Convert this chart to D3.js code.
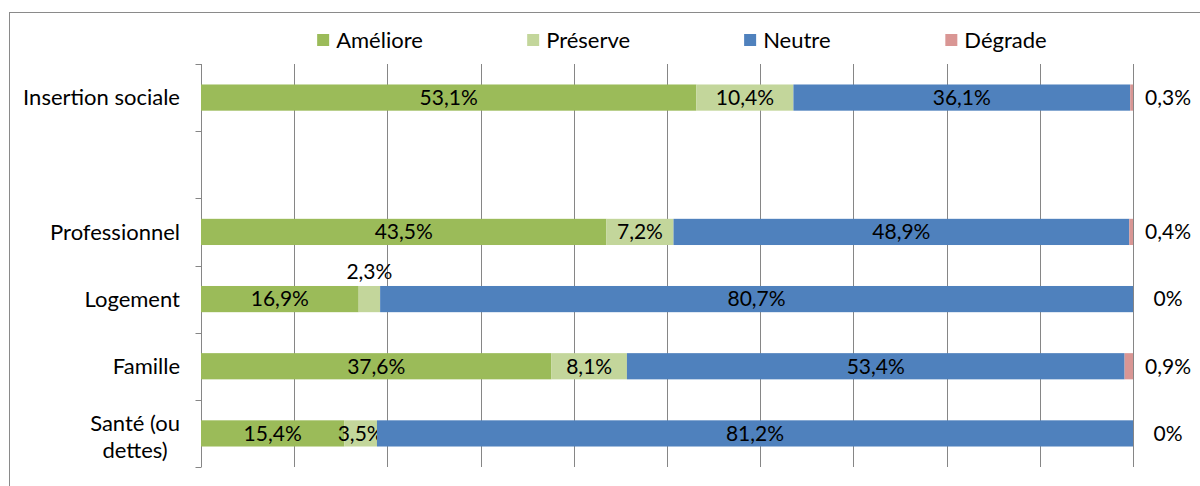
<!DOCTYPE html>
<html><head><meta charset="utf-8">
<script src="https://cdn.jsdelivr.net/npm/d3@7"></script>
<style>
body{margin:0;background:#fff}
svg{display:block}
text{font-family:Lato,"Open Sans",sans-serif;fill:#000}
</style>
</head><body>
<svg id="c" width="1200" height="486"></svg>
<script>
// ---- data ----
const categories = ["Insertion sociale", "", "Professionnel", "Logement", "Famille", "Santé (ou dettes)"];
const categoryLines = [["Insertion sociale"], [], ["Professionnel"], ["Logement"], ["Famille"], ["Santé (ou", "dettes)"]];
const seriesNames = ["Améliore", "Préserve", "Neutre", "Dégrade"];
const ameliore = [53.1, null, 43.5, 16.9, 37.6, 15.4];
const preserve = [10.4, null, 7.2, 2.3, 8.1, 3.5];
const neutre   = [36.1, null, 48.9, 80.7, 53.4, 81.2];
const degrade  = [0.3, null, 0.4, 0, 0.9, 0];
const seriesColors = ["#9BBB59", "#C3D69B", "#4F81BD", "#D99694"];
const xTickValues = [0, 10, 20, 30, 40, 50, 60, 70, 80, 90, 100];

// ---- layout ----
const svg = d3.select("#c");
const W = 1200, H = 486;
const plot = {left: 201, right: 1133, top: 64, bottom: 467};
const wordSize = 22, numSize = 21;

const seriesData = [ameliore, preserve, neutre, degrade];
const rows = categories.map((c, i) => {
  const vals = seriesData.map(s => s[i]);
  return {i, cat: c, vals, empty: vals.every(v => v == null)};
});

const x = d3.scaleLinear().domain([0, 100]).range([plot.left, plot.right]);
const yBand = d3.scaleBand().domain(d3.range(categories.length)).range([plot.top, plot.bottom]).paddingInner(0.61).paddingOuter(0.305);
const yFull = d3.scaleBand().domain(d3.range(categories.length)).range([plot.top, plot.bottom]).padding(0);

const loc = d3.formatLocale({decimal: ",", thousands: " ", grouping: [3], currency: ["", "€"]});
const f1 = loc.format(".1f");
const fmt = v => v === 0 ? "0%" : f1(v) + "%";

// chart frame
svg.append("rect").attr("x", 9.5).attr("y", 12.5).attr("width", W).attr("height", H)
  .attr("fill", "none").attr("stroke", "#8a8a8a").attr("stroke-width", 1);

// gridlines
svg.append("g").selectAll("line").data(xTickValues.filter(d => d > 0)).join("line")
  .attr("x1", d => Math.round(x(d)) + 0.5).attr("x2", d => Math.round(x(d)) + 0.5)
  .attr("y1", plot.top).attr("y2", plot.bottom)
  .attr("stroke", "#868686").attr("stroke-width", 1);

// y axis with ticks at band boundaries
const yAxisG = svg.append("g").attr("transform", `translate(${plot.left + 0.5},0)`);
const boundaries = d3.range(categories.length + 1).map(k => plot.top + k * yFull.step());
yAxisG.append("line").attr("x1", 0).attr("x2", 0).attr("y1", plot.top).attr("y2", plot.bottom)
  .attr("stroke", "#868686");
yAxisG.selectAll("line.tk").data(boundaries).join("line").attr("class", "tk")
  .attr("x1", -6).attr("x2", 0)
  .attr("y1", d => Math.round(d) + 0.5).attr("y2", d => Math.round(d) + 0.5)
  .attr("stroke", "#868686");

// bars
const stackG = svg.append("g");
rows.filter(r => !r.empty).forEach(r => {
  const total = d3.sum(r.vals);
  let acc = 0;
  r.vals.forEach((v, s) => {
    const x0 = x(acc / total * 100);
    acc += v;
    const x1 = x(acc / total * 100);
    const yb = yBand(r.i), bh = yBand.bandwidth();
    if (v > 0) {
      stackG.append("rect").attr("x", x0).attr("y", yb).attr("width", x1 - x0).attr("height", bh)
        .attr("fill", seriesColors[s]);
    }
    const cy = yb + bh / 2;
    let lx = (x0 + x1) / 2, ly = cy;
    if (s === 3) { lx = x(100) + 35; }
    else if (v < 3) { ly = yb - 14; }
    stackG.append("text").attr("x", lx).attr("y", ly).attr("dy", "0.35em")
      .attr("text-anchor", "middle").attr("font-size", numSize).text(fmt(v));
  });
});

// category labels
const catG = svg.append("g");
rows.forEach(r => {
  const lines = categoryLines[r.i];
  if (!lines.length) return;
  const cy = yBand(r.i) + yBand.bandwidth() / 2 + (lines.length > 1 ? 3 : 0);
  const lh = 27;
  const g = catG.append("g");
  const texts = lines.map((ln, k) => g.append("text").attr("font-size", wordSize)
    .attr("y", cy + (k - (lines.length - 1) / 2) * lh).attr("dy", "0.35em").text(ln));
  const widths = texts.map(t => t.node().getComputedTextLength());
  const maxW = d3.max(widths);
  const right = 180;
  texts.forEach(t => t.attr("text-anchor", "middle").attr("x", right - maxW / 2));
});

// legend
const legendCenters = d3.scalePoint().domain(seriesNames).range([370, 996]);
const legG = svg.append("g");
seriesNames.forEach((n, s) => {
  const g = legG.append("g");
  const t = g.append("text").attr("font-size", wordSize).attr("y", 40).attr("dy", "0.35em").text(n);
  const tw = t.node().getComputedTextLength();
  const itemW = 12 + 7 + tw;
  const left = legendCenters(n) - itemW / 2;
  g.append("rect").attr("x", left).attr("y", 34).attr("width", 12).attr("height", 12).attr("fill", seriesColors[s]);
  t.attr("x", left + 19);
});
</script>
</body></html>
